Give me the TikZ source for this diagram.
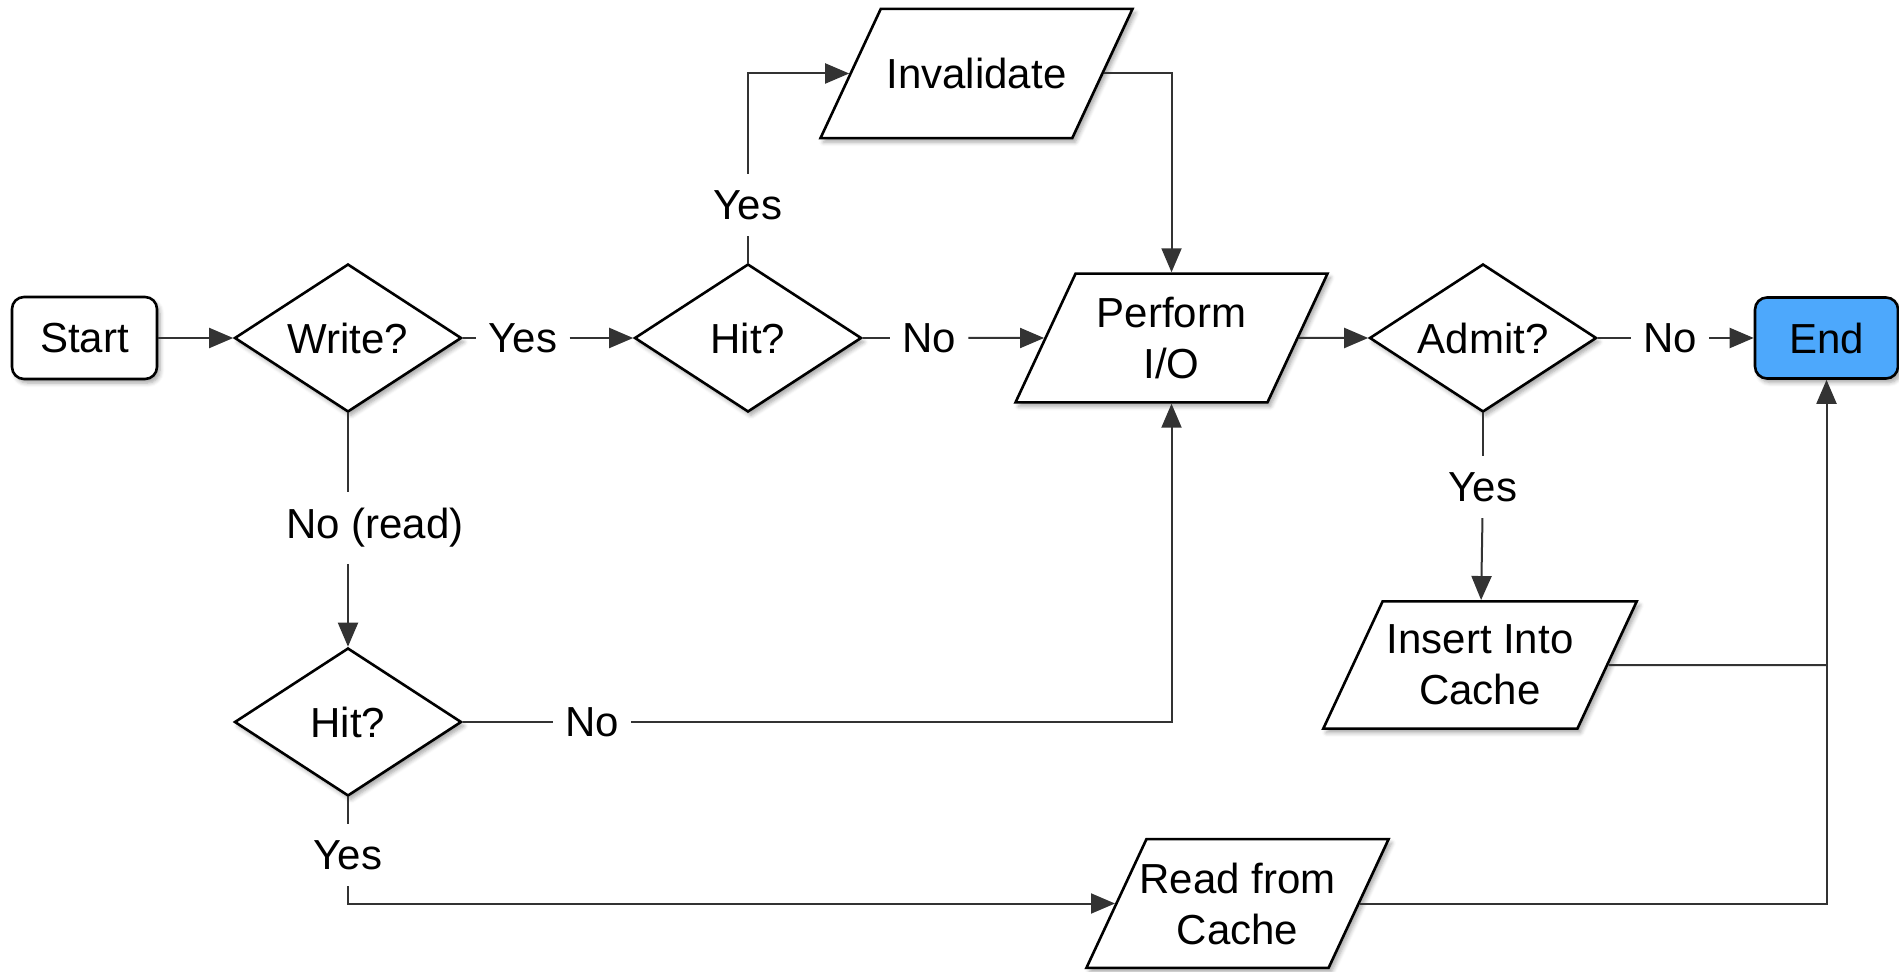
\documentclass[tikz,border=0pt]{standalone}
\usepackage{fontspec}
\setmainfont{Liberation Sans}
\usetikzlibrary{
    shapes.geometric,
    arrows.meta,
    positioning,
    shadows.blur,
}
\definecolor{linegray}{RGB}{51,51,51}
\definecolor{endblue}{RGB}{77,168,252}

\begin{document}
\begin{tikzpicture}[
    x=0.5pt, y=-0.5pt,
    >={Triangle[length=12pt,width=10pt]},
    conn/.style={draw=linegray, line width=1pt},
    box/.style={draw=black, line width=1.3pt, rounded corners=6pt, fill=white,
                minimum width=72.5pt, minimum height=41pt,
                font=\fontsize{21}{25.5}\selectfont,
                blur shadow={shadow blur steps=5, shadow xshift=1.5pt, shadow yshift=-2pt, shadow opacity=35}},
    decision/.style={diamond, aspect=1.5, draw=black, line width=1.3pt, fill=white, inner sep=0pt,
                minimum width=113.5pt, minimum height=74pt,
                font=\fontsize{21}{25.5}\selectfont,
                blur shadow={shadow blur steps=5, shadow xshift=1.5pt, shadow yshift=-2pt, shadow opacity=35}},
    io/.style={trapezium, trapezium left angle=65, trapezium right angle=115, trapezium stretches body,
                draw=black, line width=1.3pt, fill=white, align=center, inner xsep=2pt, inner ysep=11.75pt,
                minimum width=156pt,
                font=\fontsize{21}{25.5}\selectfont,
                blur shadow={shadow blur steps=5, shadow xshift=1.5pt, shadow yshift=-2pt, shadow opacity=35}},
    lbl/.style={inner xsep=6pt, inner ysep=8pt, font=\fontsize{21}{25.5}\selectfont},
]
\useasboundingbox (0,0) rectangle (1899,972);

% Start / End
\node[box] (start) at (84.5,338) {Start};
\node[box, fill=endblue, minimum width=71.5pt, minimum height=40.5pt] (endn) at (1826.5,338) {End};

% Decisions
\node[decision] (write) at (348,338) {Write?};
\node[decision] (hit1) at (748,338) {Hit?};
\node[decision] (admit) at (1483,338) {Admit?};
\node[decision] (hit2) at (348,722) {Hit?};

% I/O steps
\node[io, inner ysep=24.6pt] (inval) at (976.5,73.5) {Invalidate};
\node[io] (perform) at (1171.5,338) {Perform\\I/O};
\node[io] (insert) at (1480,665) {Insert Into\\Cache};
\node[io, inner xsep=-3.5pt, minimum width=150pt] (readc) at (1237.5,903.5) {Read from\\Cache};

% Labels
\node[lbl] (wyes) at (523,338) {Yes};
\node[lbl] (hno) at (929,338) {No};
\node[lbl] (hyes) at (748,205) {Yes};
\node[lbl] (ano) at (1670,338) {No};
\node[lbl] (ayes) at (1483,487) {Yes};
\node[lbl] (wno) at (375,528) {No (read)};
\node[lbl] (h2no) at (592,722) {No};
\node[lbl] (h2yes) at (348,855) {Yes};

% Lines
\draw[conn,->] (start) -- (write);
\draw[conn] (write) -- (wyes);
\draw[conn,->] (wyes) -- (hit1);
\draw[conn] (hit1) -- (hno);
\draw[conn,->] (hno) -- (perform);
\draw[conn] (hit1) -- (hyes);
\draw[conn,->] (hyes) |- (inval);
\draw[conn,->] (inval) -| (perform);
\draw[conn,->] (perform) -- (admit);
\draw[conn] (admit) -- (ano);
\draw[conn,->] (ano) -- (endn);
\draw[conn] (admit) -- (ayes);
\draw[conn,->] (ayes) -- (insert);
\draw[conn] (write) -- (write |- wno.north);
\draw[conn,->] (hit2 |- wno.south) -- (hit2);
\draw[conn] (hit2) -- (h2no);
\draw[conn,->] (h2no) -| (perform);
\draw[conn] (hit2) -- (h2yes);
\draw[conn,->] (h2yes) |- (readc);
\draw[conn] (insert) -- (insert -| endn);
\draw[conn,->] (readc) -| (endn);

\end{tikzpicture}
\end{document}
